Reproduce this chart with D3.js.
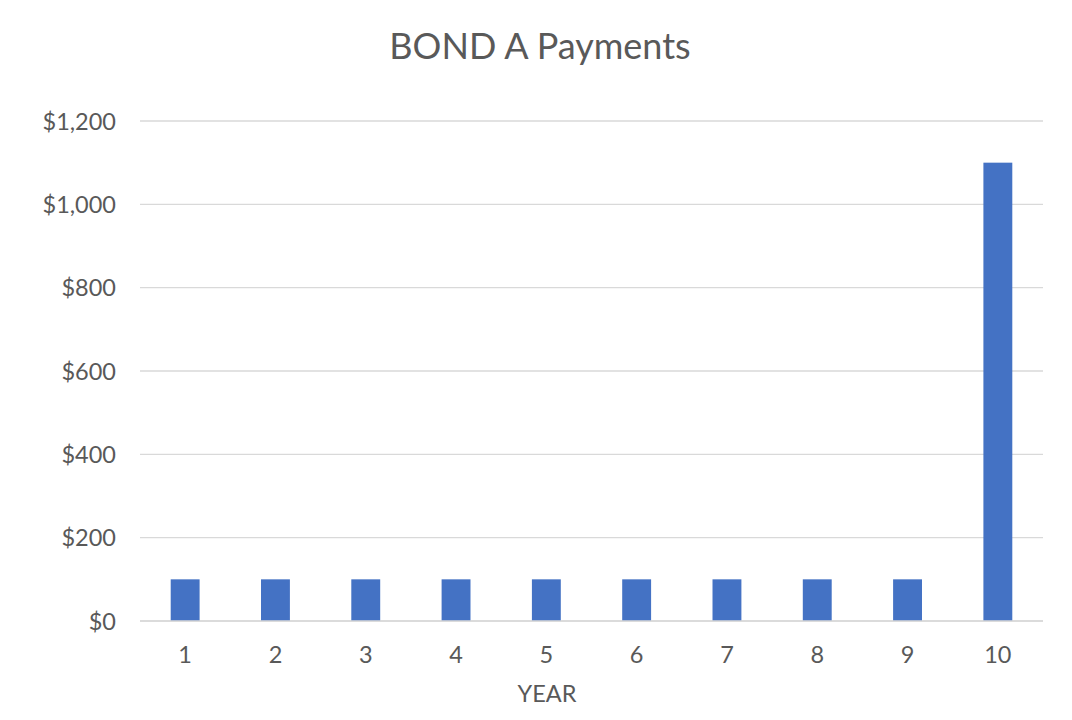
<!DOCTYPE html>
<html><head><meta charset="utf-8">
<script src="https://cdn.jsdelivr.net/npm/d3@7"></script>
<style>body{margin:0;background:#fff}svg{display:block}text{font-family:Lato,"Open Sans",sans-serif}</style>
</head><body>
<svg id="c" width="1072" height="720"></svg>
<script>
const years = ["1","2","3","4","5","6","7","8","9","10"];
const payments = [100,100,100,100,100,100,100,100,100,1100];
const yTicks = [0,200,400,600,800,1000,1200];
const title = "BOND A Payments";
const xTitle = "YEAR";

const svg = d3.select("#c");
const m = {left:140, right:1043, top:121, bottom:621};
const x = d3.scaleBand().domain(years).range([m.left, m.right]).paddingInner(0.68).paddingOuter(0.34);
const y = d3.scaleLinear().domain([0,1200]).range([m.bottom, m.top]);
const grey = "#595959";

svg.append("g").selectAll("line").data(yTicks).join("line")
  .attr("x1", m.left).attr("x2", m.right)
  .attr("y1", d=>y(d)).attr("y2", d=>y(d))
  .attr("stroke", "#d9d9d9").attr("stroke-width", 1.3);

const yAxis = svg.append("g").attr("transform",`translate(${m.left},0)`)
  .call(d3.axisLeft(y).tickValues(yTicks).tickSize(0).tickPadding(24).tickFormat(d=>"$"+d3.format(",")(d)));
yAxis.select(".domain").remove();
yAxis.selectAll("text").attr("fill", grey).style("font-size","23.5px").attr("dy","0.35em");

svg.append("g").selectAll("rect").data(payments).join("rect")
  .attr("x", (d,i)=>x(years[i])).attr("width", x.bandwidth())
  .attr("y", d=>y(d)).attr("height", d=>y(0)-y(d))
  .attr("fill", "#4472C4");

svg.append("line").attr("x1", m.left).attr("x2", m.right)
  .attr("y1", y(0)).attr("y2", y(0)).attr("stroke","#d9d9d9").attr("stroke-width",1.5);

const xAxis = svg.append("g").attr("transform",`translate(0,${m.bottom})`)
  .call(d3.axisBottom(x).tickSize(0).tickPadding(25));
xAxis.select(".domain").remove();
xAxis.selectAll("text").attr("fill", grey).style("font-size","23.5px");

svg.append("text").attr("x", 540).attr("y", 59).attr("text-anchor","middle")
  .attr("fill", grey).style("font-size","36px").text(title);
svg.append("text").attr("x", 547).attr("y", 702).attr("text-anchor","middle")
  .attr("fill", grey).style("font-size","23.5px").text(xTitle);
</script>
</body></html>
